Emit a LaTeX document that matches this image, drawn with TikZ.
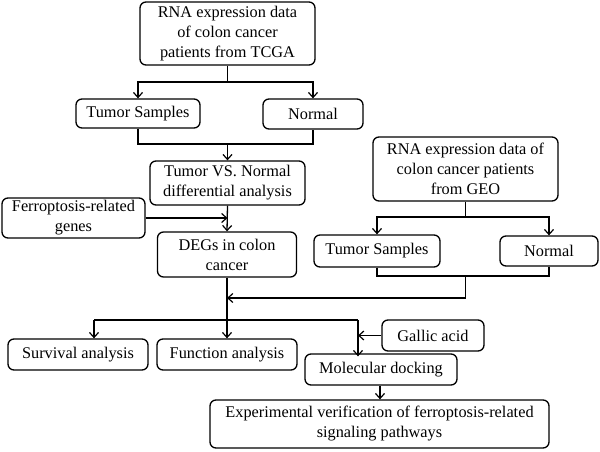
\documentclass[tikz,border=0pt]{standalone}
\usepackage{fontspec}
\setmainfont{Liberation Serif}
\usetikzlibrary{arrows.meta}
\begin{document}
\begin{tikzpicture}[x=1pt,y=-1pt,
  box/.style={draw,line width=1.3pt,rounded corners=6pt,align=center,inner sep=0pt,
    font=\fontsize{16.3}{20}\selectfont},
  line/.style={line width=1.3pt},
  arr/.style={line width=1.3pt,-{Straight Barb[length=5pt,width=9pt,line width=1.2pt]}}]
\useasboundingbox (0,0) rectangle (600,452);
\fill[white] (0,0) rectangle (600,452);
% TCGA branch
\node[box,minimum width=175pt,minimum height=63pt] (tcga) at (227.5,33.5) {RNA expression data\\of colon cancer\\patients from TCGA};
\node[box,minimum width=124pt,minimum height=29pt] (t1) at (138,113.5) {Tumor Samples};
\node[box,minimum width=100pt,minimum height=30pt] (n1) at (313,114) {Normal};
\node[box,minimum width=155pt,minimum height=44pt] (tvn) at (227.5,183) {Tumor VS. Normal\\differential analysis};
\node[box,minimum width=143pt,minimum height=40pt] (ferro) at (73.5,218) {Ferroptosis-related\\genes};
\node[box,minimum width=139pt,minimum height=45pt] (degs) at (227,254.5) {DEGs in colon\\cancer};
% GEO branch
\node[box,minimum width=185pt,minimum height=64pt] (geo) at (465.5,169) {RNA expression data of\\colon cancer patients\\from GEO};
\node[box,minimum width=126pt,minimum height=32pt] (t2) at (377,251) {Tumor Samples};
\node[box,minimum width=98pt,minimum height=30pt] (n2) at (549,251) {Normal};
% bottom
\node[box,minimum width=140pt,minimum height=31pt] (surv) at (78,354.5) {Survival analysis};
\node[box,minimum width=140pt,minimum height=31pt] (func) at (227,354.5) {Function analysis};
\node[box,minimum width=102pt,minimum height=31pt] (gallic) at (433,335.5) {Gallic acid};
\node[box,minimum width=152pt,minimum height=31pt] (mol) at (381,369.5) {Molecular docking};
\node[box,minimum width=339pt,minimum height=48pt] (exp) at (379.5,424) {Experimental verification of ferroptosis-related\\signaling pathways};
% junctions
\coordinate (s1) at (227.5,82);
\coordinate (j1) at (227.5,144);
\coordinate (s2) at (465.5,217);
\coordinate (j2) at (465.5,276);
\coordinate (j3) at (465.5,298);
\coordinate (m1) at (227,298);
\coordinate (bl) at (94,320);
\coordinate (br) at (358,320);
% connectors
\draw[line] (tcga.south) -- (s1);
\draw[arr] (s1) -| (t1.north);
\draw[arr] (s1) -| (n1.north);
\draw[line] (t1.south) |- (j1) -| (n1.south);
\draw[arr] (j1) -- (tvn.north);
\draw[arr] (tvn.south) -- (degs.north);
\draw[arr] (ferro.east) -- (ferro.east -| tvn.south);
\draw[line] (geo.south) -- (s2);
\draw[arr] (s2) -| (t2.north);
\draw[arr] (s2) -| (n2.north);
\draw[line] (t2.south) |- (j2) -| (n2.south);
\draw[line] (j2) -- (j3);
\draw[arr] (j3) -- (m1);
\draw[arr] (degs.south) -- (func.north);
\draw[line] (bl) -- (br);
\draw[arr] (bl) -- (surv.north -| bl);
\draw[arr] (br) -- ([yshift=-3pt]mol.north -| br);
\draw[arr] (gallic.west) -- (gallic.west -| br);
\draw[arr] (mol.south -| 380,0) -- (exp.north -| 380,0);
\end{tikzpicture}
\end{document}
